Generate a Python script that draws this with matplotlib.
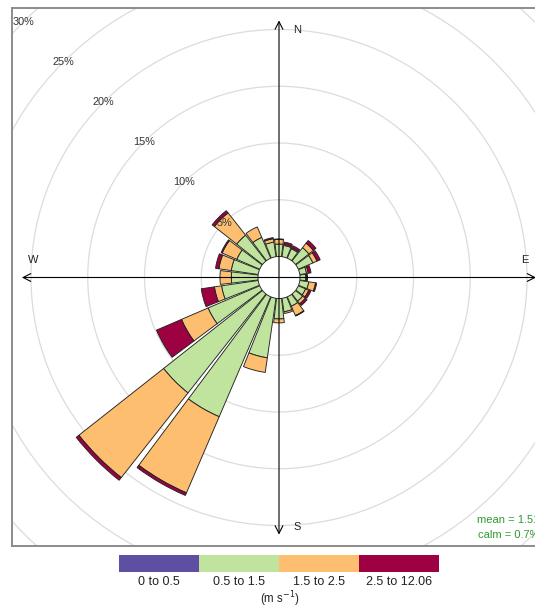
import matplotlib
matplotlib.use("Agg")
import matplotlib.pyplot as plt
from matplotlib.patches import Wedge, Circle, Rectangle

plt.rcParams['font.family'] = ['Liberation Sans', 'DejaVu Sans']

# Wind direction sectors (degrees from north, clockwise)
directions = [0, 15, 30, 45, 60, 75, 90, 105, 120, 135, 150, 165,
              180, 195, 210, 225, 240, 255, 270, 285, 300, 315, 330, 345]

# Frequency (%) of each wind-speed class per sector
freq_0_05 = [0.0] * 24
freq_05_15 = [1.1, 1.0, 0.9, 1.5, 1.4, 0.6, 0.5, 0.8, 0.7, 0.8, 0.9, 1.2,
              1.8, 5.3, 11.5, 11.1, 4.95, 3.26, 2.35, 2.4, 2.2, 2.9, 2.0, 1.3]
freq_15_25 = [0.4, 0.1, 0.1, 0.5, 0.4, 0.15, 0.1, 0.6, 0.3, 0.3, 0.9, 0.15,
              0.35, 1.3, 7.3, 9.5, 2.55, 0.64, 1.0, 1.1, 1.4, 2.5, 1.0, 0.3]
freq_25_12 = [0.05, 0.2, 0.2, 0.3, 0.3, 0.25, 0.05, 0.1, 0.2, 0.2, 0.05, 0.0,
              0.0, 0.0, 0.25, 0.3, 2.4, 1.17, 0.0, 0.3, 0.1, 0.25, 0.0, 0.1]

speed_labels = ["0 to 0.5", "0.5 to 1.5", "1.5 to 2.5", "2.5 to 12.06"]
speed_colours = ["#5E4FA2", "#C0E49E", "#FDBF6F", "#9E0142"]

ring_levels = [5, 10, 15, 20, 25, 30]
mean_speed = 1.51
calm_pct = 0.7

sector_width = 15
bar_fraction = 0.9
hole = 1.85  # inner offset of the rose, in % units

W, H, DPI = 535, 609, 100
fig = plt.figure(figsize=(W / DPI, H / DPI), dpi=DPI)

# main panel: 1 data unit = 11.35 px, centre at (279, 277.5) px
k = 11.35
cx, cy = 279.0, 277.5
left_px, right_px, top_px, bot_px = 12, 546, 8, 546
ax = fig.add_axes([left_px / W, (H - bot_px) / H,
                   (right_px - left_px) / W, (bot_px - top_px) / H])
ax.set_xlim((left_px - cx) / k, (right_px - cx) / k)
ax.set_ylim((cy - bot_px) / k, (cy - top_px) / k)
ax.set_xticks([])
ax.set_yticks([])
for side in ["left", "top", "bottom", "right"]:
    ax.spines[side].set_color("#8C8C8C")
    ax.spines[side].set_linewidth(1.4)

# grid rings
for lev in ring_levels:
    ax.add_patch(Circle((0, 0), hole + lev, fill=False, edgecolor="#DCDCDC",
                        linewidth=0.9, zorder=1))

# stacked sector bars
series = [freq_0_05, freq_05_15, freq_15_25, freq_25_12]
half = sector_width * bar_fraction / 2
for i, d in enumerate(directions):
    base = 0.0
    theta_c = 90 - d
    for vals, col in zip(series, speed_colours):
        v = vals[i]
        if v <= 0:
            continue
        top = base + v
        ax.add_patch(Wedge((0, 0), hole + top, theta_c - half, theta_c + half,
                           width=v, facecolor=col, edgecolor="#222222",
                           linewidth=0.65, zorder=3))
        base = top

# axes cross with arrows
L = 22.65
arrow = dict(arrowstyle="<->,head_length=0.55,head_width=0.28", lw=0.8,
             color="black", shrinkA=0, shrinkB=0)
ax.annotate("", xy=(0, L), xytext=(0, -L), arrowprops=arrow, zorder=5)
ax.annotate("", xy=(L, 0), xytext=(-L, 0), arrowprops=arrow, zorder=5)

lab_kw = dict(fontsize=8, ha="center", va="center", color="#222222", zorder=6)
ax.text(18 / k, 21.8, "N", **lab_kw)
ax.text(18 / k, -21.98, "S", **lab_kw)
ax.text(-21.67, 1.54, "W", **lab_kw)
ax.text(21.67, 1.54, "E", **lab_kw)

# ring labels along the north-west diagonal
s45 = 0.70711
for lev in ring_levels:
    r = hole + lev
    ax.text(-r * s45, r * s45, f"{lev}%", fontsize=7.8, ha="center",
            va="center", color="#333333", zorder=6)

# summary statistics
stat_kw = dict(fontsize=8, ha="right", va="center", color="#2E9B2E", zorder=6)
ax.text((539 - cx) / k, (cy - 520) / k, f"mean = {mean_speed}", **stat_kw)
ax.text((539 - cx) / k, (cy - 535) / k, f"calm = {calm_pct}%", **stat_kw)

# colour key
kx0, kx1, ky0, ky1 = 119.3, 439.3, 555, 571.7
kax = fig.add_axes([kx0 / W, (H - ky1) / H, (kx1 - kx0) / W, (ky1 - ky0) / H])
kax.set_xlim(0, len(speed_labels))
kax.set_ylim(0, 1)
kax.axis("off")
for j, (lab, col) in enumerate(zip(speed_labels, speed_colours)):
    kax.add_patch(Rectangle((j, 0), 1, 1, facecolor=col, edgecolor="none"))
    xc = (kx0 + (kx1 - kx0) * (j + 0.5) / len(speed_labels)) / W
    fig.text(xc, (H - 581.7) / H, lab, fontsize=9, ha="center", va="center",
             color="#222222")
fig.text(280 / W, (H - 599.5) / H, "(m s$^{-1}$)", fontsize=8.3, ha="center",
         va="center", color="#222222")

fig.savefig("out.png", dpi=DPI)
